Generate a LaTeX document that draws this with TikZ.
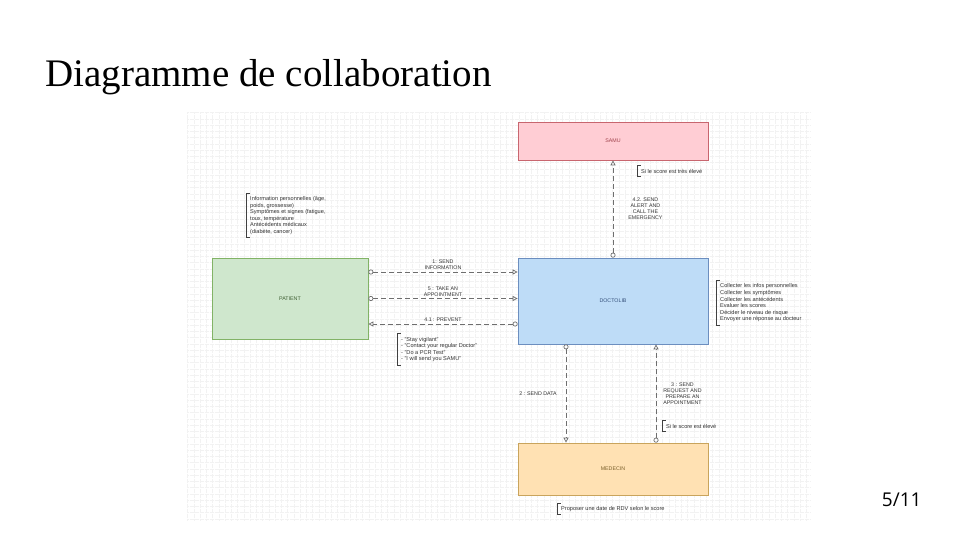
\documentclass[tikz,border=0pt]{standalone}
\usepackage{fontspec}
\setmainfont{Liberation Serif}
\setsansfont{Liberation Sans}
\newfontfamily\pagefont{Open Sans}
\usetikzlibrary{positioning,arrows.meta}

\definecolor{samufill}{HTML}{FFCDD4}
\definecolor{samuline}{HTML}{C8666F}
\definecolor{samutext}{HTML}{A0434C}
\definecolor{patfill}{HTML}{CFE7CD}
\definecolor{patline}{HTML}{82B366}
\definecolor{pattext}{HTML}{3F5F33}
\definecolor{docfill}{HTML}{BEDCF7}
\definecolor{docline}{HTML}{6C8EBF}
\definecolor{doctext}{HTML}{35507A}
\definecolor{medfill}{HTML}{FFE1B3}
\definecolor{medline}{HTML}{C9A45C}
\definecolor{medtext}{HTML}{7A5F2A}
\definecolor{msggray}{HTML}{6E6E6E}
\definecolor{textgray}{HTML}{333333}

\begin{document}
\begin{tikzpicture}[x=1pt, y=-1pt]
	\tikzstyle{actor} = [rectangle, draw, line width=0.7pt, minimum width=190pt, inner sep=0pt, font=\sffamily\fontsize{5.3}{6}\selectfont]
	\tikzstyle{msg} = [draw=msggray, line width=0.7pt, dash pattern=on 5pt off 3pt, {Circle[open, fill=white, length=5pt]}-{Triangle[open, fill=white, length=5pt, width=5pt]}]
	\tikzstyle{lbl} = [font=\sffamily\fontsize{5.3}{6}\selectfont, text=textgray, align=center, inner sep=1pt]
	\tikzstyle{note} = [font=\sffamily\fontsize{5.6}{6.6}\selectfont, text=textgray, align=left, inner xsep=4pt, inner ysep=3pt, anchor=west]
	\tikzstyle{bracket} = [draw=black!75, line width=0.8pt]
	\tikzstyle{gridline} = [draw=black!5, line width=0.25pt, densely dotted]

	% background
	\useasboundingbox (0,0) rectangle (960,540);
	\fill[white] (0,0) rectangle (960,540);
	\draw[gridline, step=6.25pt] (187,112) grid (810,520);

	\node[anchor=base west, font=\fontsize{39}{44}\selectfont] (title) at (42,87) {Diagramme de collaboration};
	\node[anchor=base east, font=\pagefont\fontsize{19}{22}\selectfont] (pagenum) at (925,506) {5/11};

	% actors
	\node[actor, fill=samufill, draw=samuline, text=samutext, minimum height=38pt] (samu) at (613,141) {SAMU};
	\node[actor, fill=docfill, draw=docline, text=doctext, minimum height=86pt] (doctolib) at (613,301) {DOCTOLIB};
	\node[actor, fill=patfill, draw=patline, text=pattext, minimum width=156pt, minimum height=81pt] (patient) at (290,298.5) {PATIENT};
	\node[actor, fill=medfill, draw=medline, text=medtext, minimum height=52pt] (medecin) at (613,469) {MEDECIN};

	% message ends
	\coordinate (pat1) at ([yshift=26.5pt]patient.east);
	\coordinate (pat5) at (patient.east);
	\coordinate (pat41) at ([yshift=-25.5pt]patient.east);
	\coordinate (doc2) at ([xshift=-47pt]doctolib.south);
	\coordinate (doc3) at ([xshift=43pt]doctolib.south);

	\draw[msg] (pat1) -- node[lbl, above=1pt] {1: SEND\\INFORMATION} (pat1 -| doctolib.west);
	\draw[msg] (pat5) -- node[lbl, above=1pt] {5 : TAKE AN\\APPOINTMENT} (pat5 -| doctolib.west);
	\draw[msg] (pat41 -| doctolib.west) -- node[lbl, above=1pt] {4.1 : PREVENT} (pat41);
	\draw[msg] (doctolib.north) -- node[lbl, right=14pt] {4.2. SEND\\ALERT AND\\CALL THE\\EMERGENCY} (samu.south);
	\draw[msg] (doc2) -- node[lbl, left=8pt] {2 : SEND DATA} (doc2 |- medecin.north);
	\draw[msg] (doc3 |- medecin.north) -- node[lbl, right=6pt] {3 : SEND\\REQUEST AND\\PREPARE AN\\APPOINTMENT} (doc3);

	% notes
	\node[note] (samunote) at (637,171) {Si le score est très élevé};
	\node[note] (patnote) at (246,215.5) {Information personnelles (âge,\\poids, grossesse)\\Symptômes et signes (fatigue,\\toux, température\\Antécédents médicaux\\(diabète, cancer)};
	\node[note] (prevnote) at (397,349.5) {- "Stay vigilant"\\- "Contact your regular Doctor"\\- "Do a PCR Test"\\- "I will send you SAMU"};
	\node[note] (docnote) at (716,303) {Collecter les infos personnelles\\Collecter les symptômes\\Collecter les antécédents\\Evaluer les scores\\Décider le niveau de risque\\Envoyer une réponse au docteur};
	\node[note] (mednote) at (662,426) {Si le score est élevé};
	\node[note] (rdvnote) at (557,509) {Proposer une date de RDV selon le score};

	\foreach \n in {samunote, patnote, prevnote, docnote, mednote, rdvnote}
		\draw[bracket] ([xshift=3.5pt]\n.north west) -| (\n.south west) -- ++(3.5,0);
\end{tikzpicture}
\end{document}
